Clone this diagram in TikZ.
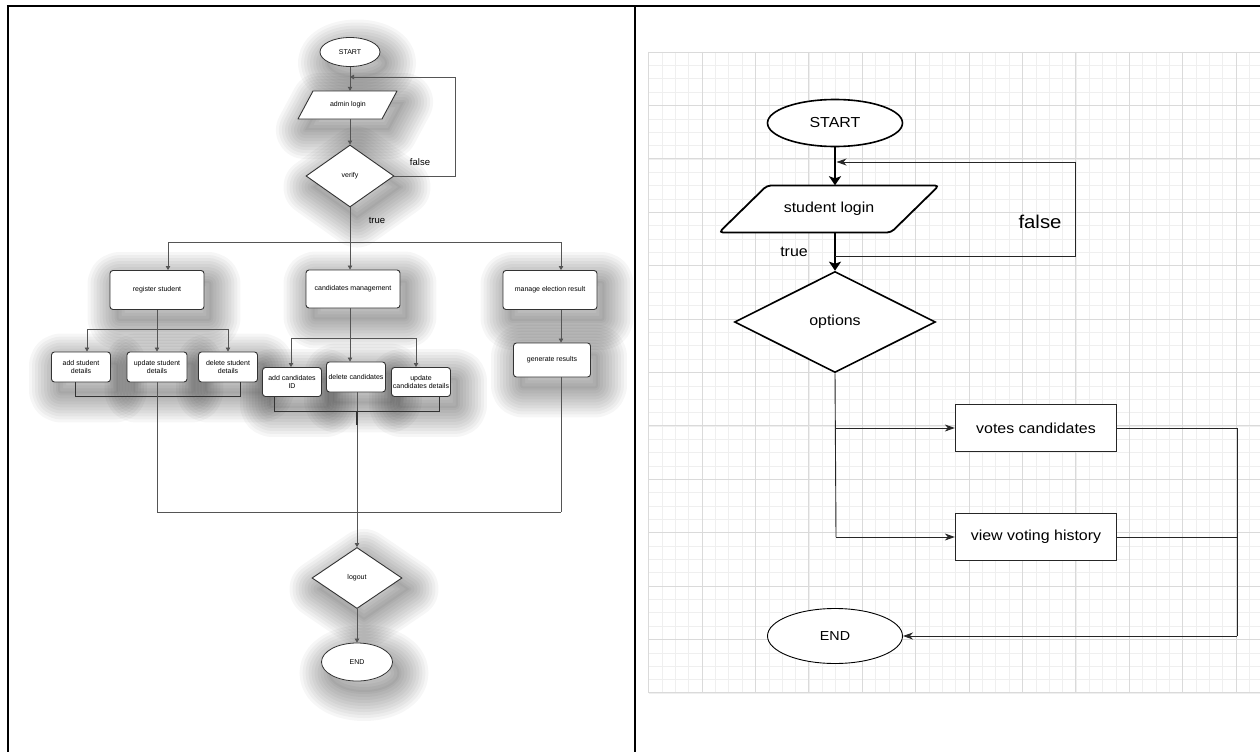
\documentclass[tikz,border=0pt]{standalone}
\usepackage{fontspec}
\setmainfont{Liberation Sans}
\newfontfamily\rfont[FakeStretch=1.1]{Liberation Sans}
\usetikzlibrary{shapes.geometric,arrows.meta}
\definecolor{lline}{HTML}{555555}
\definecolor{gmaj}{HTML}{DADADA}
\definecolor{gmin}{HTML}{EFEFEF}
\pgfdeclarelayer{back}
\pgfdeclarelayer{shad}
\pgfdeclarelayer{shape}
\pgfsetlayers{back,shad,shape,main}
\begin{document}
\begin{tikzpicture}[x=1pt,y=-1pt,
 shd/.style={draw=black,draw opacity=0.036,line width=#1,fill=none,line join=round},
 lshp/.style={draw=none,fill=black,fill opacity=0.04,preaction={shd=58pt},preaction={shd=52pt},preaction={shd=46pt},preaction={shd=40pt},preaction={shd=34pt},preaction={shd=28pt},preaction={shd=22pt},preaction={shd=16pt},preaction={shd=10pt},preaction={shd=4pt}},
 lfont/.style={font=\fontsize{7}{8}\selectfont},
 lbox/.style={rectangle,rounded corners=3pt,draw=black!80,line width=0.9pt,fill=white,align=center,inner sep=1pt,lfont},
 ldia/.style={diamond,draw=black!80,line width=0.9pt,fill=white,inner sep=0pt,lfont},
 lell/.style={ellipse,draw=black!80,line width=0.8pt,fill=white,inner sep=0pt,lfont},
 lparshape/.style={draw=black!80,line width=0.9pt,fill=white,line join=round},
 lcon/.style={draw=lline,line width=0.7pt},
 larr/.style={lcon,-{Triangle[length=4pt,width=4.5pt]}},
 lbl/.style={font=\fontsize{9.5}{11}\selectfont},
 rfnt/.style={font=\rfont\fontsize{14.5}{16}\selectfont},
 rell/.style={ellipse,draw,line width=1.6pt,fill=white,inner sep=0pt,rfnt},
 rparshape/.style={draw,line width=1.8pt,fill=white,rounded corners=4pt},
 rdia/.style={diamond,draw,line width=1.6pt,fill=white,inner sep=0pt,rfnt},
 rbox/.style={rectangle,draw=black!85,line width=1.3pt,fill=white,rfnt},
 rthick/.style={draw,line width=1.8pt,-{Stealth[length=9pt,width=12pt,inset=2pt]}},
 rthin/.style={draw=black!85,line width=0.9pt},
 rarr/.style={rthin,-{Stealth[length=10pt,width=7pt,inset=3pt]}}]
\useasboundingbox (0,0) rectangle (1260,752);
\begin{pgfonlayer}{back}
\fill[white] (0,0) rectangle (1260,752);
% grid (right panel)
\foreach \k in {0,...,45}{\draw[gmin,line width=0.5pt] ({648.6+\k*13.35},52) -- ({648.6+\k*13.35},692.8);}
\foreach \k in {0,...,48}{\draw[gmin,line width=0.5pt] (648.6,{52+\k*13.35}) -- (1260,{52+\k*13.35});}
\foreach \k in {0,4,...,44}{\draw[gmaj,line width=0.9pt] ({648.6+\k*13.35},52) -- ({648.6+\k*13.35},692.8);}
\foreach \k in {0,4,...,48}{\draw[gmaj,line width=0.9pt] (648.6,{52+\k*13.35}) -- (1260,{52+\k*13.35});}
\end{pgfonlayer}
% table borders
\draw[line width=2.5pt] (6.8,6) -- (1260,6);
\draw[line width=2.5pt] (8,6) -- (8,752);
\draw[line width=2.2pt] (635,6) -- (635,752);

% ---------- left flowchart ----------
\node[lell,minimum width=60pt,minimum height=29pt] (lstart) at (350,52) {START};
\begin{pgfonlayer}{shape}
\path[lparshape] (298,119) -- (313,91) -- (397,91) -- (382,119) -- cycle;
\end{pgfonlayer}
\node[lfont,minimum width=84pt,minimum height=28pt,inner sep=0pt] (llogin) at (348,105) {admin login};
\node[ldia,minimum width=88pt,minimum height=62pt] (lverify) at (350,176) {verify};
\node[lbox,minimum width=94pt,minimum height=39pt] (lreg) at (157,290) {register student};
\node[lbox,minimum width=94pt,minimum height=38pt] (lcand) at (353,289) {candidates management};
\node[lbox,minimum width=94pt,minimum height=39pt] (lman) at (550,290) {manage election result};
\node[lbox,minimum width=59pt,minimum height=30pt] (ladd) at (81,367) {add student\\details};
\node[lbox,minimum width=60pt,minimum height=30pt] (lupd) at (157,367) {update student\\details};
\node[lbox,minimum width=59pt,minimum height=30pt] (ldel) at (228,367) {delete student\\details};
\node[lbox,minimum width=59pt,minimum height=29pt] (lcadd) at (292,382) {add candidates\\ID};
\node[lbox,minimum width=59pt,minimum height=30pt] (lcdel) at (356,377) {delete candidates};
\node[lbox,minimum width=59pt,minimum height=29pt] (lcupd) at (421,382) {update\\candidates details};
\node[lbox,minimum width=77pt,minimum height=34pt] (lgen) at (552,360) {generate results};
\node[ldia,minimum width=90pt,minimum height=61pt] (llogout) at (357,578) {logout};
\node[lell,minimum width=71pt,minimum height=38pt] (lend) at (357,662) {END};
\node[lbl] (lfalse) at (420,162) {false};
\node[lbl] (ltrue) at (377,220) {true};

% soft shadows of the left shapes
\begin{pgfonlayer}{shad}
\begin{scope}[transform canvas={xshift=7pt,yshift=-11pt}]
\path[lshp] (lstart) ellipse [x radius=30pt,y radius=14.5pt];
\path[lshp] (298,119) -- (313,91) -- (397,91) -- (382,119) -- cycle;
\path[lshp] (lverify.north) -- (lverify.east) -- (lverify.south) -- (lverify.west) -- cycle;
\foreach \n in {lreg,lcand,lman,ladd,lupd,ldel,lcadd,lcdel,lcupd,lgen}{
  \path[lshp,rounded corners=3pt] (\n.north west) rectangle (\n.south east);}
\path[lshp] (llogout.north) -- (llogout.east) -- (llogout.south) -- (llogout.west) -- cycle;
\path[lshp] (lend) ellipse [x radius=35.5pt,y radius=19pt];
\end{scope}
\end{pgfonlayer}

\coordinate (lfb) at (455,77);
\coordinate (lbus) at (350,242);
\coordinate (lbusL) at (168,242);
\coordinate (lbusR) at (561,242);
\coordinate (lrb) at (157,329);
\coordinate (lrbL) at (87,329);
\coordinate (lrbR) at (228,329);
\coordinate (lbrL) at (75,396);
\coordinate (lbrR) at (240,396);
\coordinate (lcb) at (350,338);
\coordinate (lcbL) at (291,338);
\coordinate (lcbR) at (416,338);
\coordinate (lcbrL) at (274,411);
\coordinate (lcbrR) at (439,411);
\coordinate (lbotL) at (157,512);
\coordinate (lbotR) at (561,512);
\coordinate (lmid) at (357,512);

\draw[larr] (lstart.south) -- (lstart.south |- llogin.north);
\draw[larr] (lstart.south |- llogin.south) -- (lverify.north);
\draw[larr] (lverify.east) -| (lfb) -- (lstart.south |- lfb);
\draw[lcon] (lverify.south) -- (lbus);
\draw[lcon] (lbusL) -- (lbusR);
\draw[larr] (lbusL) -- (lbusL |- lreg.north);
\draw[larr] (lbus) -- (lbus |- lcand.north);
\draw[larr] (lbusR) -- (lbusR |- lman.north);
\draw[larr] (lbusR |- lman.south) -- (lbusR |- lgen.north);
% register student children
\draw[lcon] (lreg.south) -- (lrb);
\draw[lcon] (lrbL) -- (lrbR);
\draw[larr] (lrbL) -- (lrbL |- ladd.north);
\draw[larr] (lrb) -- (lupd.north);
\draw[larr] (lrbR) -- (ldel.north);
\draw[lcon,line width=0.9pt,draw=black!80] (lbrL |- ladd.south) -- (lbrL) -- (lbrR) -- (lbrR |- ldel.south);
\draw[lcon] (lupd.south) -- (lbotL);
% candidates children
\draw[lcon] (lbus |- lcand.south) -- (lcb);
\draw[lcon] (lcbL) -- (lcbR);
\draw[larr] (lcbL) -- (lcbL |- lcadd.north);
\draw[larr] (lcb) -- (lcb |- lcdel.north);
\draw[larr] (lcbR) -- (lcbR |- lcupd.north);
\draw[lcon,line width=0.9pt,draw=black!80] (lcbrL |- lcadd.south) -- (lcbrL) -- (lcbrR) -- (lcbrR |- lcupd.south);
\draw[lcon] (lmid |- lcdel.south) -- (lmid);
\draw[line width=1.6pt,black!80] (357,411) -- (357,425);
% bottom
\draw[lcon] (lbotL) -- (lbotR);
\draw[lcon] (lbusR |- lgen.south) -- (lbotR);
\draw[larr] (lmid) -- (llogout.north);
\draw[larr] (llogout.south) -- (lend.north);

% ---------- right flowchart ----------
\node[rell,minimum width=135pt,minimum height=47pt] (rstart) at (835,123) {START};
\begin{pgfonlayer}{shape}
\path[rparshape] (719,232.5) -- (767,185.5) -- (939,185.5) -- (891,232.5) -- cycle;
\end{pgfonlayer}
\node[rfnt,minimum width=172pt,minimum height=47pt,inner sep=0pt] (rlogin) at (829,209) {student login};
\node[rdia,minimum width=201pt,minimum height=101pt] (rdec) at (835,322) {options};
\node[rbox,minimum width=161pt,minimum height=47pt] (rvote) at (1036,428) {votes candidates};
\node[rbox,minimum width=161pt,minimum height=47pt] (rview) at (1036,537) {view voting history};
\node[rell,line width=0.9pt,minimum width=135pt,minimum height=55pt,font=\rfont\fontsize{13}{15}\selectfont] (rend) at (835,636) {END};
\node[font=\rfont\fontsize{18.5}{20}\selectfont] (rfalse) at (1040,222) {false};
\node[rfnt] (rtrue) at (794,252) {true};

\coordinate (rfb1) at (835,256);
\coordinate (rfb2) at (1075,256);
\coordinate (rfb3) at (1075,162);
\coordinate (rjv) at (836,428);
\coordinate (rjw) at (836,537);
\coordinate (rr1) at (1237,428);
\coordinate (rr2) at (1237,537);
\coordinate (rr3) at (1237,636);

\draw[rthick] (rstart.south) -- (rstart.south |- rlogin.north);
\draw[rthick] (rstart.south |- rlogin.south) -- (rdec.north);
\draw[rthin] (rfb1) -- (rfb2) -- (rfb3);
\draw[rarr,shorten >=1.5pt] (rfb3) -- (rstart.south |- rfb3);
\draw[rthin] (rdec.south) -- (rjw);
\draw[rarr] (rjv) -- (rvote.west);
\draw[rarr] (rjw) -- (rview.west);
\draw[rthin] (rvote.east) -- (rr1) -- (rr3);
\draw[rthin] (rview.east) -- (rr2);
\draw[rarr] (rr3) -- (rend.east);
\end{tikzpicture}
\end{document}
